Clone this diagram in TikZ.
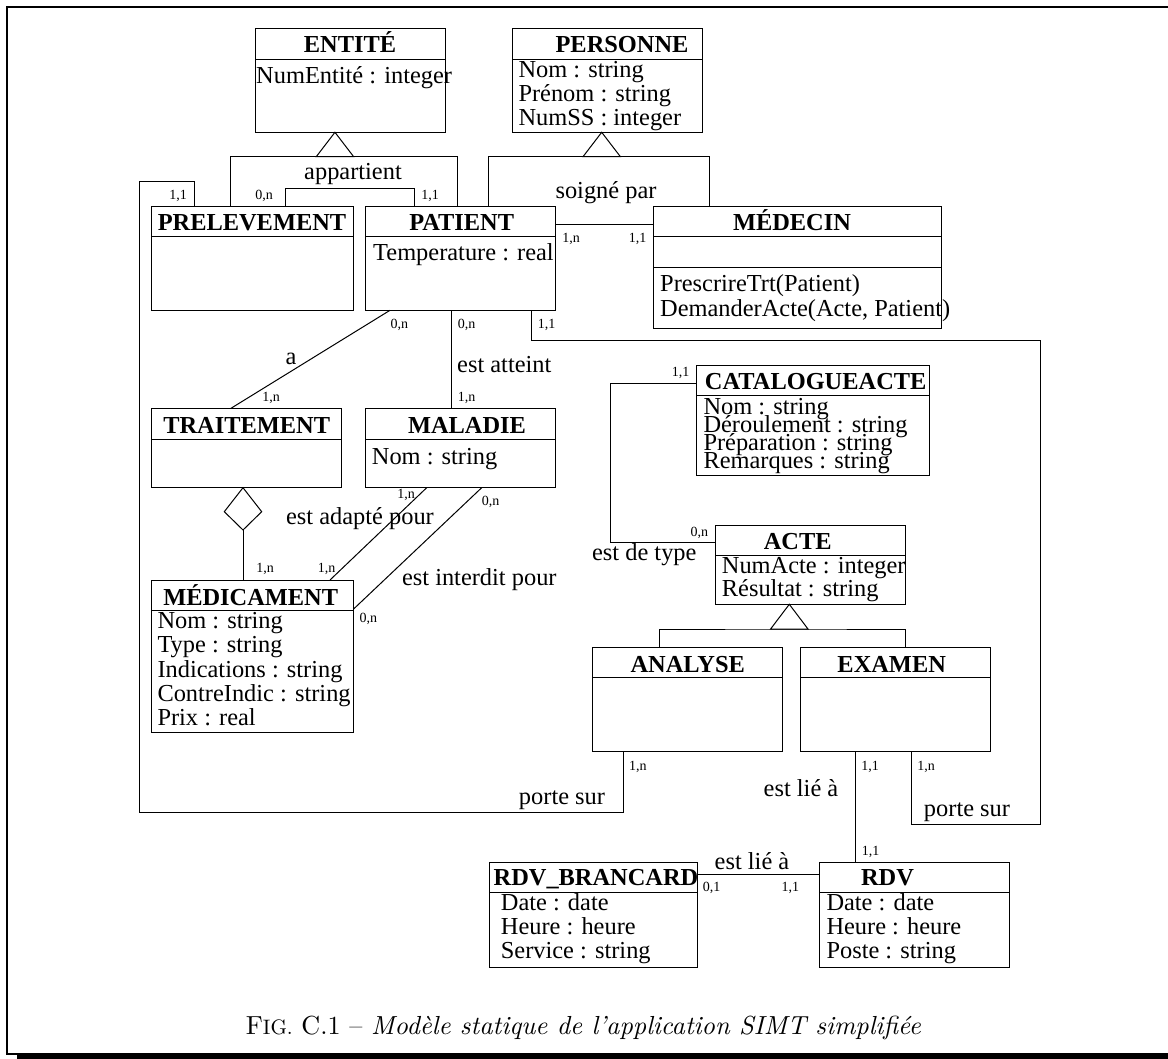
\documentclass[tikz,border=0pt]{standalone}
\usepackage{fontspec}
\usepackage{graphicx}
\usetikzlibrary{calc}
\newfontfamily\dgfont{Liberation Serif}
\newcommand\attfont{\dgfont\fontsize{24.4}{26}\selectfont}
\newcommand\ttlfont{\dgfont\bfseries\fontsize{24.4}{26}\selectfont}
\newcommand\cardfont{\dgfont\fontsize{14}{16}\selectfont}

\tikzset{
  classbox/.style={draw, line width=1pt, inner sep=0pt, outer sep=0pt, anchor=north west},
  sepline/.style={line width=1pt},
  link/.style={line width=1pt},
  ttl/.style={font=\ttlfont, inner sep=0pt, anchor=base},
  attr/.style={font=\attfont, inner sep=0pt, anchor=base west},
  lbl/.style={font=\attfont, inner sep=0pt},
  card/.style={font=\cardfont, inner sep=0pt},
}

% class rectangle: name, left, top, right, bottom (pixel units, y downwards)
\newcommand\umlbox[5]{\node[classbox, minimum width={(#4-#2)*1pt}, minimum height={(#5-#3)*1pt}] (#1) at (#2,-#3) {};}
% compartment separator at a given distance below the top
\newcommand\umlsep[2]{\draw[sepline] ([yshift=-#2pt]#1.north west) -- ([yshift=-#2pt]#1.north east);}
% attribute lines: name, left, first baseline, spacing, items
\newcommand\attrlist[5]{\foreach \t [count=\i from 0] in {#5} {\node[attr] (#1-\i) at (#2,{-(#3+\i*#4)}) {\t};}}

\begin{document}
\begin{tikzpicture}[x=1pt,y=1pt]
\useasboundingbox (0,0) rectangle (1168,-1059);

% page frame with shadow
\draw[line width=2pt] (1175,-7.3) -- (7.3,-7.3) -- (7.3,-1054) -- (1175,-1054);
\fill (17,-1054) rectangle (1175,-1065);

% ---------- classes ----------
\umlbox{entite}{255}{28.3}{445.3}{132.3}
\umlsep{entite}{31}
\node[ttl] (entite-t) at (350,-53) {ENTITÉ};
\attrlist{entite}{256}{83.3}{24}{NumEntité : integer}

\umlbox{personne}{512.3}{28.3}{702.7}{132.3}
\umlsep{personne}{31}
\node[ttl] (personne-t) at (622,-53) {PERSONNE};
\attrlist{personne}{518.3}{77.5}{24.25}{Nom : string, Prénom : string, NumSS : integer}

\umlbox{prelev}{151}{206.7}{353.3}{310.3}
\umlsep{prelev}{30.3}
\node[ttl] (prelev-t) at (252,-231) {PRELEVEMENT};

\umlbox{patient}{365.3}{206.7}{555.3}{310.3}
\umlsep{patient}{30.3}
\node[ttl] (patient-t) at (461.7,-231) {PATIENT};
\attrlist{patient}{373}{261}{24}{Temperature : real}

\umlbox{medecin}{653.7}{206.7}{941.7}{328.3}
\umlsep{medecin}{30.3}
\umlsep{medecin}{60.6}
\node[ttl] (medecin-t) at (792,-231) {MÉDECIN};
\attrlist{medecin}{660}{291.7}{25}{PrescrireTrt(Patient), {DemanderActe(Acte, Patient)}}

\umlbox{traitement}{151}{408.3}{341}{487.7}
\umlsep{traitement}{30.7}
\node[ttl] (traitement-t) at (246.7,-433.3) {TRAITEMENT};

\umlbox{maladie}{365.3}{408.3}{555.3}{487.7}
\umlsep{maladie}{30.7}
\node[ttl] (maladie-t) at (467,-433.3) {MALADIE};
\attrlist{maladie}{371.7}{464}{24}{Nom : string}

\umlbox{medicament}{151}{580}{353.3}{732.7}
\umlsep{medicament}{30.7}
\node[ttl] (medicament-t) at (250.7,-605) {MÉDICAMENT};
\attrlist{medicament}{157.3}{628.3}{24.4}{Nom : string, Type : string, Indications : string, ContreIndic : string, Prix : real}

\umlbox{catalogue}{696.7}{365.7}{929.3}{475.7}
\umlsep{catalogue}{30.3}
\node[ttl] (catalogue-t) at (815.7,-390) {CATALOGUEACTE};
\attrlist{catalogue}{703.3}{414.3}{18}{Nom : string, Déroulement : string, Préparation : string, Remarques : string}

\umlbox{acte}{715}{525}{905}{604.3}
\umlsep{acte}{30.7}
\node[ttl] (acte-t) at (797.7,-549) {ACTE};
\attrlist{acte}{721.7}{573.3}{23.4}{NumActe : integer, Résultat : string}

\umlbox{analyse}{592.3}{647.5}{782.3}{751}
\umlsep{analyse}{30.2}
\node[ttl] (analyse-t) at (687.7,-672.3) {ANALYSE};

\umlbox{examen}{800.3}{647.5}{990.3}{751}
\umlsep{examen}{30.2}
\node[ttl] (examen-t) at (891.7,-672.3) {EXAMEN};

\umlbox{rdvb}{489}{862.3}{697}{967}
\umlsep{rdvb}{29.7}
\node[ttl] (rdvb-t) at (596,-885.7) {RDV\_BRANCARD};
\attrlist{rdvb}{500.7}{910}{24.2}{Date : date, Heure : heure, Service : string}

\umlbox{rdv}{819.5}{862.3}{1009}{967}
\umlsep{rdv}{29.7}
\node[ttl] (rdv-t) at (887.5,-885.7) {RDV};
\attrlist{rdv}{826.3}{910}{24.2}{Date : date, Heure : heure, Poste : string}

% ---------- generalisations ----------
\draw[link] ([xshift=-15.2pt]entite.south) -- ++(-18.7,-24.4) -- ++(37.4,0) -- cycle;
\draw[link] ([xshift=79.7pt]prelev.north west) |- ([xshift=-15.2pt,yshift=-24.4pt]entite.south) -| ([xshift=92pt]patient.north west);

\draw[link] ([xshift=-5.8pt]personne.south) -- ++(-18.7,-24.4) -- ++(37.4,0) -- cycle;
\draw[link] ([xshift=123pt]patient.north west) |- ([xshift=-5.8pt,yshift=-24.4pt]personne.south) -| ([xshift=55.6pt]medecin.north west);

\draw[link] ([xshift=-20.7pt]acte.south) -- ++(-18.7,-24.7) -- ++(37.4,0) -- cycle;
\draw[link] ([xshift=67pt]analyse.north west) |- ([xshift=-20.7pt,yshift=-24.7pt]acte.south) -| ([xshift=104.7pt]examen.north west);

% ---------- associations ----------
\draw[link] ([xshift=134.7pt]prelev.north west) -- ++(0,18.4) -| ([xshift=49.4pt]patient.north west);

\coordinate (loopSW) at (139,-812.5);
\draw[link] ([xshift=43pt]prelev.north west) -- ++(0,25) -| (loopSW) -| ([xshift=30.7pt]analyse.south west);

\draw[link] ([yshift=-17.6pt]patient.north east) -- ([yshift=-17.6pt]medecin.north west);

\draw[link] ([xshift=24.7pt]patient.south west) -- ([xshift=80pt]traitement.north west);
\draw[link] ([xshift=86.4pt]patient.south west) -- ([xshift=86.4pt]maladie.north west);

\coordinate (loopSE) at (1040,-824);
\draw[link] ([xshift=166.4pt]patient.south west) -- ++(0,-30.4) -| (loopSE) -| ([xshift=111.4pt]examen.south west);

% aggregation diamond
\draw[link] ([xshift=92pt]traitement.south west) -- ++(-18.7,-24) -- ++(18.7,-18.3) coordinate (aggbot) -- ++(18.7,18.3) -- cycle;
\draw[link] (aggbot) -- ([xshift=92pt]medicament.north west);

\draw[link] ([xshift=61.4pt]maladie.south west) -- ([xshift=179pt]medicament.north west);
\draw[link] ([xshift=116.4pt]maladie.south west) -- ([yshift=-29.3pt]medicament.north east);

\coordinate (typeBend) at (610.7,-542.7);
\draw[link] ([yshift=-18.3pt]catalogue.north west) -| (typeBend) -- ([yshift=-17.7pt]acte.north west);

\draw[link] ([xshift=55.4pt]examen.south west) -- ([xshift=36.2pt]rdv.north west);
\draw[link] ([yshift=-12.4pt]rdvb.north east) -- ([yshift=-12.4pt]rdv.north west);

% ---------- association names ----------
\node[lbl] (l-app) at (353,-174) {appartient};
\node[lbl] (l-soi) at (606,-192.7) {soigné par};
\node[lbl] (l-a) at (291,-359.3) {a};
\node[lbl, anchor=west] (l-att) at (457,-365) {est atteint};
\node[lbl] (l-adp) at (360,-518.3) {est adapté pour};
\node[lbl] (l-int) at (479.3,-579.3) {est interdit pour};
\node[lbl] (l-typ) at (644.3,-555) {est de type};
\node[lbl] (l-po1) at (562,-800.7) {porte sur};
\node[lbl] (l-po2) at (967,-812.7) {porte sur};
\node[lbl] (l-li1) at (801,-788.3) {est lié à};
\node[lbl] (l-li2) at (752,-860.7) {est lié à};

% ---------- multiplicities ----------
\node[card] (c1) at (178,-196) {1,1};
\node[card] (c2) at (264,-196) {0,n};
\node[card] (c3) at (430,-196) {1,1};
\node[card] (c4) at (571,-238.7) {1,n};
\node[card] (c5) at (637.7,-238.7) {1,1};
\node[card] (c6) at (399.3,-325) {0,n};
\node[card] (c7) at (466.7,-325) {0,n};
\node[card] (c8) at (546.7,-325) {1,1};
\node[card] (c9) at (271,-397.7) {1,n};
\node[card] (c10) at (466.7,-397.7) {1,n};
\node[card] (c11) at (406,-495) {1,n};
\node[card] (c12) at (490.7,-502.3) {0,n};
\node[card] (c13) at (265,-569.3) {1,n};
\node[card] (c14) at (326.7,-569.3) {1,n};
\node[card] (c15) at (368.3,-619.3) {0,n};
\node[card] (c16) at (680.7,-373.3) {1,1};
\node[card] (c17) at (699.3,-532.7) {0,n};
\node[card] (c18) at (637.9,-766.7) {1,n};
\node[card] (c19) at (870,-766.7) {1,1};
\node[card] (c20) at (926,-766.7) {1,n};
\node[card] (c21) at (870.6,-851.7) {1,1};
\node[card] (c22) at (711.6,-888.3) {0,1};
\node[card] (c23) at (790.4,-888.3) {1,1};

% ---------- caption ----------
\node[anchor=base, inner sep=0pt] (caption) at (583.5,-1034)
  {\resizebox{675pt}{!}{F\scalebox{0.8}{IG.} C.1 -- \textit{Modèle statique de l'application SIMT simplifiée}}};
\end{tikzpicture}
\end{document}
